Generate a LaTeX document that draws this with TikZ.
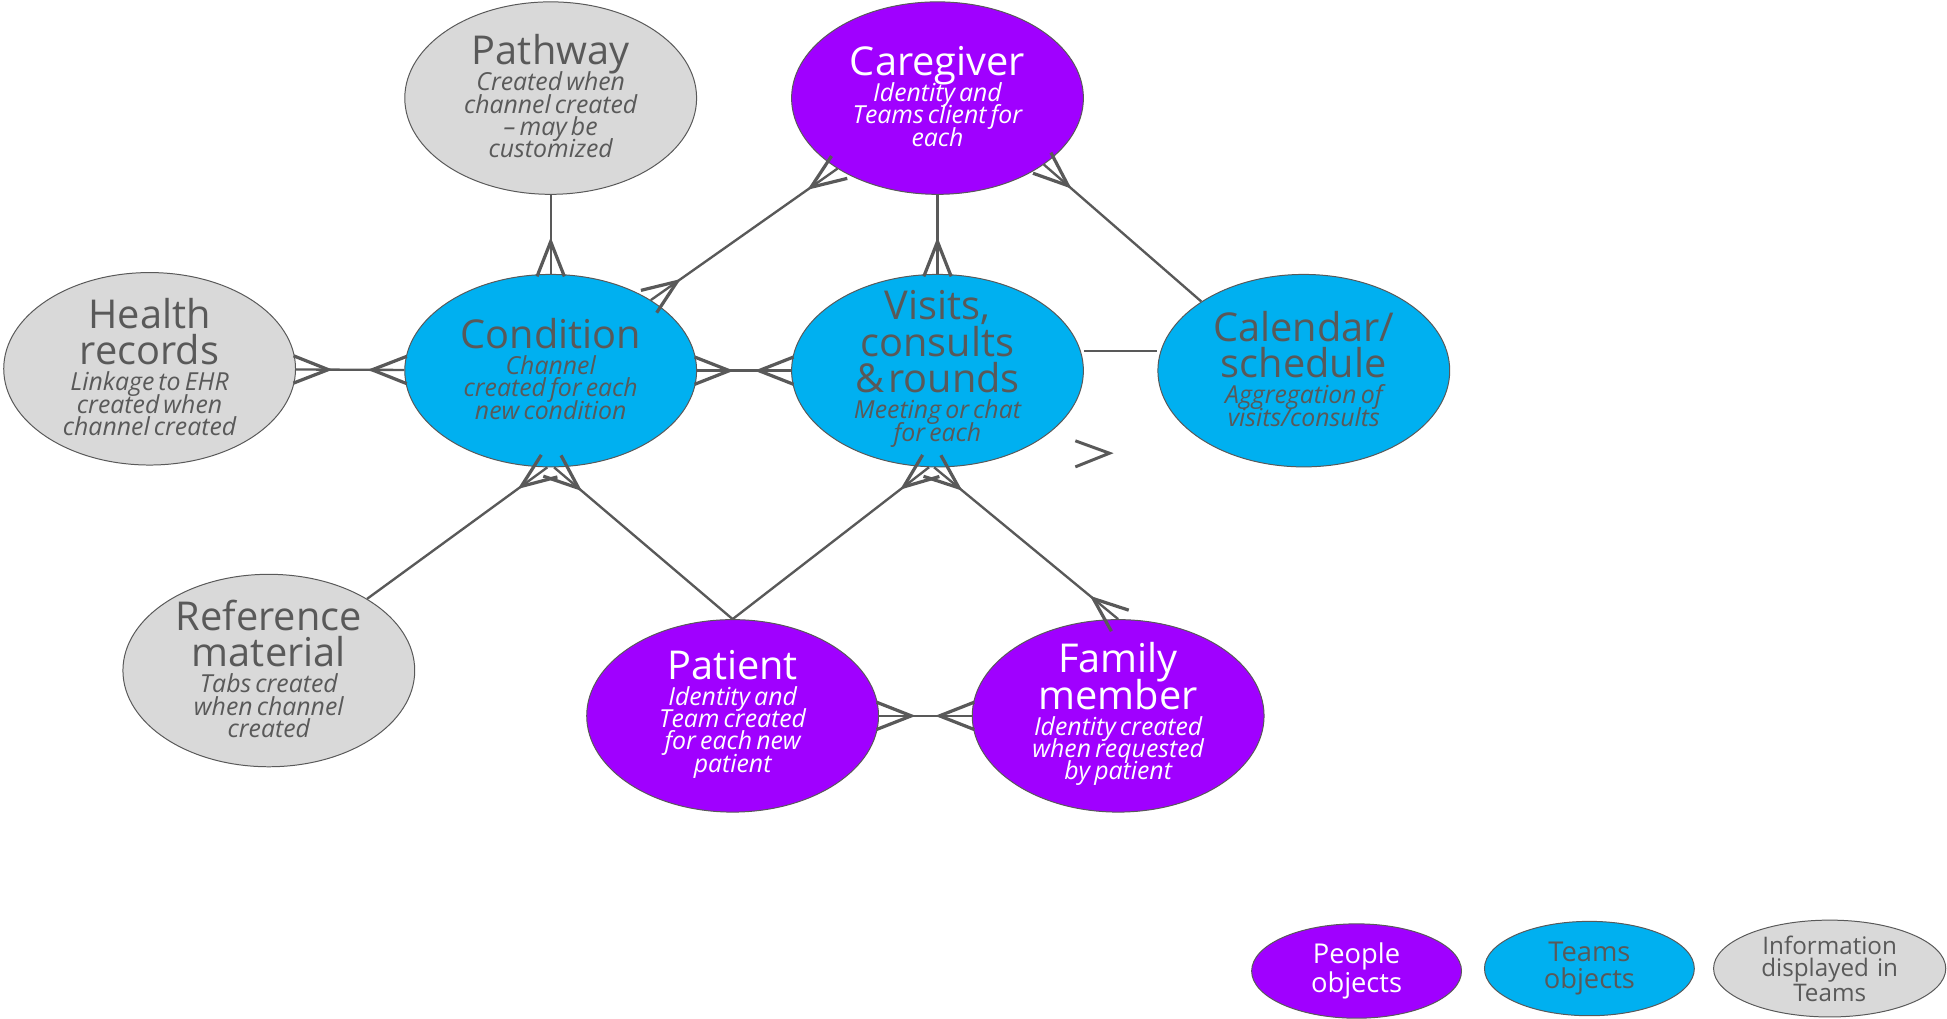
\documentclass[tikz,border=0pt]{standalone}
\usepackage{fontspec}
\setmainfont{Open Sans}
\usepackage{tikz}
\usetikzlibrary{shapes.geometric}
\usetikzlibrary{decorations.markings}

\definecolor{peoplepurple}{HTML}{A000FF}
\definecolor{teamsblue}{HTML}{00B0F0}
\definecolor{infogrey}{HTML}{D9D9D9}
\definecolor{darkgrey}{HTML}{595959}

\newcommand{\ttl}{\fontsize{32}{29.5}\selectfont}
\newcommand{\sbt}{\fontsize{20}{18}\selectfont\itshape}
\newcommand{\entity}[2]{\lineskiplimit=-50pt{\ttl #1\par}\vspace{3pt}{\sbt #2\par}\vspace{3pt}}

\begin{document}
\begin{tikzpicture}[x=1pt, y=-1pt,
    obj/.style={ellipse, draw=darkgrey, line width=0.8pt, minimum width=235pt,
      minimum height=155pt, inner xsep=-45pt, inner ysep=-40pt, text width=230pt, align=center},
    people/.style={obj, fill=peoplepurple, text=white},
    teams/.style={obj, fill=teamsblue, text=darkgrey},
    info/.style={obj, fill=infogrey, text=darkgrey},
    key/.style={minimum width=169pt, minimum height=76pt, text width=160pt},
    link/.style={draw=darkgrey, line width=1.9pt},
    crow end/.style={postaction={decorate, decoration={markings,
      mark=at position 1 with {\draw[darkgrey, line width=2.6pt] (2pt,11pt) -- (-26pt,0pt) -- (2pt,-11pt);}}}},
    crow start/.style={postaction={decorate, decoration={markings,
      mark=at position 0 with {\draw[darkgrey, line width=2.6pt] (-2pt,11pt) -- (26pt,0pt) -- (-2pt,-11pt);}}}}]
    \useasboundingbox (0,0) rectangle (1568,820);

    % draw entities
    \node[info] (pathway) at (443.5,79) {\entity{Pathway}{Created when\\channel created\\-- may be\\customized}};
    \node[people] (careg) at (755,79) {\entity{Caregiver}{Identity and\\Teams client for\\each}};
    \node[info] (health) at (120.5,297) {\entity{Health\\records}{Linkage to EHR\\created when\\channel created}};
    \node[teams] (cond) at (443.5,298.5) {\entity{Condition}{Channel\\created for each\\new condition}};
    \node[teams] (visits) at (755,298.5) {\entity{Visits,\\consults\\\& rounds}{Meeting or chat\\for each}};
    \node[teams] (cal) at (1050,298.5) {\entity{Calendar/\\schedule}{Aggregation of\\visits/consults}};
    \node[info] (ref) at (216.5,540) {\entity{Reference\\material}{Tabs created\\when channel\\created}};
    \node[people] (patient) at (590,576.5) {\entity{Patient}{Identity and\\Team created\\for each new\\patient}};
    \node[people] (family) at (900.5,576.5) {\entity{Family\\member}{Identity created\\when requested\\by patient}};

    % draw legend
    \node[people, key, font=\fontsize{22}{21}\selectfont] (keypeople) at (1092.5,782) {People\\objects};
    \node[teams, key, font=\fontsize{22}{21}\selectfont] (keyteams) at (1280,780) {Teams\\objects};
    \node[info, key, minimum width=187pt, minimum height=78pt, font=\fontsize{19.5}{18}\selectfont] (keyinfo) at (1473.5,780) {Information\\displayed in\\Teams};

    % draw relations
    \draw[link, crow end] (pathway) -- (cond);
    \draw[link, crow start, crow end] (cond) -- (careg);
    \draw[link, crow end] (careg) -- (visits);
    \draw[link, crow end] (cal.146.5) -- (careg.-32);
    \draw[link, crow start, crow end] (health) -- (cond);
    \draw[link, crow start, crow end] (cond) -- (visits);
    \draw[link] ([yshift=16pt]visits.east) -- ([yshift=16pt]cal.west);
    \draw[link, crow end] (ref) -- (cond.268);
    \draw[link, crow end] (patient.north) -- (cond.272);
    \draw[link, crow end] (patient.north) -- (visits.265);
    \draw[link, crow start, crow end] (visits.268) -- (family.north);
    \draw[link, crow start, crow end] (patient) -- (family);
    \draw[darkgrey, line width=2.4pt] (866,355) -- (893.5,365) -- (866,376);
\end{tikzpicture}
\end{document}
